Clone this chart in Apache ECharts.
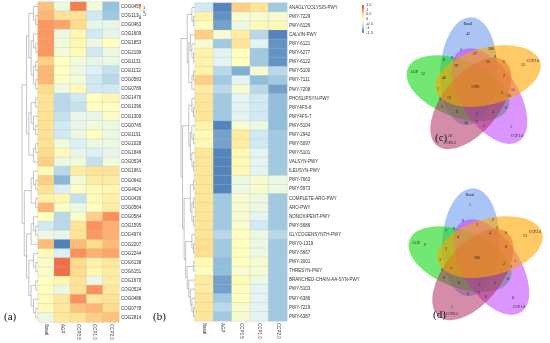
<!DOCTYPE html>
<html><head><meta charset="utf-8">
<script src="https://cdn.jsdelivr.net/npm/echarts@6/dist/echarts.min.js"></script>
<style>html,body{margin:0;padding:0;background:#fff}#c{width:550px;height:343px}</style>
</head><body><div id="c"></div>
<script>
// ---------------- data ----------------
const groups = ['Basal', 'AGP', 'CCP0.5', 'CCP1.0', 'CCP2.0'];

const cogLabels = ['COG0456','COG1136','COG0463','COG1609','COG1853','COG2199','COG1131','COG1132','COG0583','COG0789',
  'COG1476','COG1396','COG1309','COG0745','COG1191','COG1028','COG1846','COG0534','COG1961','COG0642',
  'COG4624','COG0436','COG0564','COG0584','COG1595','COG4974','COG2207','COG2244','COG6138','COG6151',
  'COG1670','COG0524','COG0488','COG0778','COG2814'];
const cogValues = [
  [0.9,-0.4,1.45,-0.3,-1.3],[1.0,0.6,0.6,-0.8,-1.2],[1.25,1.15,0.7,-0.5,-0.5],[1.25,-0.4,0.2,-0.8,-0.5],[1.25,-0.3,0.2,-0.4,0.0],
  [1.25,-0.3,0.1,-0.8,-0.4],[0.8,0.0,-0.3,-0.5,-0.4],[1.0,0.0,-0.4,-0.7,-0.9],[1.0,-0.1,-0.3,-0.8,-1.0],[0.7,-0.4,0.1,-0.8,-0.8],
  [0.6,-1.0,-0.8,0.0,0.2],[0.6,-1.0,-0.9,0.0,0.0],[0.6,-0.9,-0.5,-0.5,-0.1],[0.6,-0.8,-0.5,-0.3,-0.4],[0.6,-0.8,-0.4,0.0,-0.4],
  [0.6,-0.3,-0.7,-0.4,-0.4],[0.7,0.1,-0.5,-0.7,-0.5],[0.8,-0.4,-0.3,-0.9,-0.3],[0.1,-1.0,0.4,0.6,0.6],[0.8,-1.4,-0.3,0.4,0.4],
  [0.6,-0.7,-0.1,0.1,0.2],[0.3,0.2,-0.9,0.1,0.3],[1.0,-0.1,-0.4,0.0,0.4],[0.0,-1.0,-0.1,0.8,1.3],[-0.8,-1.0,0.6,1.3,1.05],
  [-0.4,-0.5,0.6,1.25,1.05],[0.95,-1.9,0.95,0.7,0.95],[0.1,-0.7,1.3,1.05,1.15],[-0.1,1.55,0.7,0.3,0.5],[-0.1,1.55,0.7,0.2,0.4],
  [0.0,0.2,0.6,-0.4,0.4],[0.0,-0.4,0.6,1.3,0.5],[0.1,0.5,1.3,0.5,0.6],[0.1,0.5,0.9,1.0,0.7],[-0.4,0.5,0.6,0.8,0.9]
];

const pwyLabels = ['ANAGLYCOLYSIS-PWY','PWY-7229','PWY-6126','CALVIN-PWY','PWY-6121','PWY-6277','PWY-6122','PWY-5100','PWY-7111','PWY-7208',
  'PHOSLIPSYN-PWY','PWY4FS-8','PWY4FS-7','PWY-5104','PWY-2942','PWY-5097','PWY-5101','VALSYN-PWY','ILEUSYN-PWY','PWY-7663',
  'PWY-5973','COMPLETE-ARO-PWY','ARO-PWY','NONOXIPENT-PWY','PWY-5686','GLYCOGENSYNTH-PWY','PWY0-1319','PWY-5667','PWY-3001','THRESYN-PWY',
  'BRANCHED-CHAIN-AA-SYN-PWY','PWY-5103','PWY-6386','PWY-7219','PWY-6387'];
const pwyValues = [
  [-0.6,-1.4,0.6,0.4,-0.9],[0.2,-1.3,-0.15,-0.15,-0.15],[0.0,-1.2,-0.3,0.1,0.1],[0.6,-0.15,0.3,-0.75,-1.4],[-0.15,-0.9,0.4,-0.45,-1.3],
  [0.2,-0.45,0.0,-0.9,-1.3],[0.2,-0.45,0.0,-0.9,-1.3],[0.2,-0.75,-1.1,-0.15,-0.75],[0.6,-0.9,-0.45,-1.0,-0.9],[0.3,-0.75,-0.15,-0.75,-1.2],
  [0.4,-0.9,-0.45,-0.6,-1.0],[0.4,-0.9,-0.45,-0.6,-1.0],[0.4,-0.9,-0.45,-0.6,-1.0],[0.2,-1.4,-0.15,-0.3,-1.0],[0.1,-1.2,0.3,-0.6,-0.9],
  [0.1,-1.2,0.3,-0.6,-0.9],[0.4,-1.4,0.1,-0.45,-0.9],[0.4,-1.4,0.1,-0.45,-0.9],[0.4,-1.4,0.1,-0.45,-0.9],[0.4,-1.4,-0.3,-0.15,-0.3],
  [0.4,-1.4,-0.3,-0.15,-0.3],[0.4,-0.9,-0.15,-0.3,-0.9],[0.4,-0.9,-0.15,-0.3,-0.9],[0.4,-0.9,-0.15,-0.45,-0.9],[0.4,-0.9,-0.15,-0.6,-0.9],
  [0.4,-0.75,0.0,-0.3,-0.75],[0.5,-0.9,0.0,-0.3,-0.9],[0.5,-0.9,0.0,-0.3,-0.9],[0.1,-1.0,0.0,-0.15,-0.9],[0.0,-1.0,-0.15,-0.15,-0.9],
  [0.3,-1.2,0.1,-0.3,-0.9],[0.3,-1.2,0.0,-0.45,-0.9],[0.4,-0.9,0.0,-0.45,-0.9],[0.4,-0.75,-0.15,-0.45,-0.9],[0.4,-0.9,-0.15,-0.45,-0.9]
];

const cogScale = [-2, 2, 1];      // min, max, tick interval of legend (a)
const pwyScale = [-1.5, 1.5, 0.5]; // legend (b)

// row clustering (leaf = row index)
const cogTree = [
  [[[0,[1,2]],[[3,[4,5]],[[6,7],[8,9]]]], [[[10,11],[12,[13,14]]],[[15,16],17]]],
  [[[18,[19,20]],[21,22]], [[[23,[24,25]],26],[[27,[28,29]],[[30,31],[32,[33,34]]]]]]
];
const pwyTree = [
  [[0,[1,2]],[[3,[4,[5,6]]],[[7,8],9]]],
  [[[10,[11,12]],[[13,[14,15]],[16,[17,18]]]],
   [[[19,20],[[21,22],[23,24]]],[[25,[26,27]],[[28,29],[30,[31,[32,[33,34]]]]]]]]
];

// Venn diagrams
const vennSets = ['Basal', 'AGP', 'CCP2.0', 'CCP1.0', 'CCP0.5'];
const vennCCounts = [42,12,15,1,20,1199,2,380,8,9,27,8,29,55,6,40,2,1,6,13,2,11,16,3,8,2,4,6,10,2,1];
const vennDCounts = [1,6,13,0,1,386,6,2,7,8,3,5,4,4,0,3,0,3,6,7,2,1,2,8,8,1,6,0,0,1,8];

// ---------------- layout / style ----------------
const palette = ['#4575B4','#91BFDB','#E0F3F8','#FFFFBF','#FEE090','#FC8D59','#D73027'];
const vennFill = {Basal:'rgba(100,149,237,0.55)', AGP:'rgba(20,215,20,0.6)', 'CCP2.0':'rgba(255,165,0,0.6)',
                  'CCP1.0':'rgba(191,62,255,0.55)', 'CCP0.5':'rgba(176,48,96,0.55)'};
const vennAngle = {Basal:-90, 'CCP2.0':-18, 'CCP1.0':54, 'CCP0.5':126, AGP:198};
const vennDrawOrder = ['Basal','AGP','CCP1.0','CCP0.5','CCP2.0'];
// offsets of region counts from venn center (same order as counts)
const vennPos = [[-7,-53],[-52,-13],[48,-22],[36,40],[-25,49],[0,0],
  [-14,-37],[16,-38],[-31,-27],[-23,-29],[0,-33],[20,-30],[-19,-21],[13,-25],[29,-25],[-31,-9],[29,-11],
  [-37,2],[-35,12],[-26,11],[27,6],[38,3],[34,9],[-33,20],[-18,25],[2,27],[18,25],[31,21],[-9,36],[2,35],[9,39]];
const vennLabelPos = [[-7,-63],[-61,-15],[58,-26],[42,49],[-25,56]];

const chart = echarts.init(document.getElementById('c'), null, {renderer:'canvas'});

function heatData(vals){
  const d = [];
  vals.forEach((row, r) => row.forEach((v, c) => d.push([c, r, v])));
  return d;
}
function dendro(node, out){
  if (typeof node === 'number') return {y: node, h: 0};
  const a = dendro(node[0], out), b = dendro(node[1], out);
  const h = Math.max(a.h, b.h) + 1;
  out.push({coords: [[a.h, a.y], [h, a.y], [h, b.y], [b.h, b.y]]});
  return {y: (a.y + b.y) / 2, h: h};
}
const cogLines = []; const cogRoot = dendro(cogTree, cogLines);
const pwyLines = []; const pwyRoot = dendro(pwyTree, pwyLines);

const lblFont = {fontSize: 4.5, color: '#333', fontFamily: 'Liberation Sans'};

function heatX(gi){
  return {type:'category', gridIndex:gi, data:groups, position:'bottom',
    axisLine:{show:false}, axisTick:{show:false}, splitLine:{show:false},
    axisLabel:Object.assign({rotate:-90, interval:0, margin:2}, lblFont)};
}
function heatY(gi, labels){
  return {type:'category', gridIndex:gi, data:labels, inverse:true, position:'right',
    axisLine:{show:false}, axisTick:{show:false}, splitLine:{show:false},
    axisLabel:Object.assign({interval:0, margin:2}, lblFont)};
}

const graphics = [];
function venn(cx, cy, counts){
  const A = 54, B = 28.5, D = 17, AL = -22, BE = 3;
  vennDrawOrder.forEach(name => {
    const phi = vennAngle[name];
    const pr = (phi + AL) * Math.PI / 180;
    graphics.push({type:'circle', silent:true, shape:{cx:0, cy:0, r:10},
      x: cx + D*Math.cos(pr), y: cy + D*Math.sin(pr), scaleX: A/10, scaleY: B/10,
      rotation: -(phi + BE) * Math.PI / 180, style:{fill: vennFill[name]}});
  });
  counts.forEach((v, i) => {
    graphics.push({type:'text', silent:true, x: cx + vennPos[i][0], y: cy + vennPos[i][1],
      style:{text:String(v), fontSize: 4, fontFamily:'Liberation Serif', fill:'#222', align:'center', verticalAlign:'middle'}});
  });
  vennSets.forEach((s, i) => {
    graphics.push({type:'text', silent:true, x: cx + vennLabelPos[i][0], y: cy + vennLabelPos[i][1],
      style:{text:s, fontSize: 4, fontFamily:'Liberation Serif', fill:'#222', align:'center', verticalAlign:'middle'}});
  });
}
venn(475, 87, vennCCounts);
venn(477, 258, vennDCounts);
[['(a)',4,317],['(b)',153,317],['(c)',435,138],['(d)',433,315]].forEach(t => {
  graphics.push({type:'text', silent:true, x:t[1], y:t[2],
    style:{text:t[0], fontSize:11, fontFamily:'Liberation Serif', fill:'#111', verticalAlign:'middle'}});
});

const option = {
  backgroundColor: '#fff',
  animation: false,
  grid: [
    {left:38, top:2, width:81, height:320},   // heatmap a
    {left:195, top:3, width:92, height:318},  // heatmap b
    {left:22, top:2, width:16, height:320},   // dendro a
    {left:181, top:3, width:14, height:318},  // dendro b
    {left:139, top:4, width:2, height:15},    // legend a ticks
    {left:362, top:5, width:2, height:28}     // legend b ticks
  ],
  xAxis: [
    heatX(0), heatX(1),
    {type:'value', gridIndex:2, min:0, max:cogRoot.h, inverse:true, show:false},
    {type:'value', gridIndex:3, min:0, max:pwyRoot.h, inverse:true, show:false},
    {type:'value', gridIndex:4, show:false},
    {type:'value', gridIndex:5, show:false}
  ],
  yAxis: [
    heatY(0, cogLabels), heatY(1, pwyLabels),
    {type:'value', gridIndex:2, min:-0.5, max:cogLabels.length-0.5, inverse:true, show:false},
    {type:'value', gridIndex:3, min:-0.5, max:pwyLabels.length-0.5, inverse:true, show:false},
    {type:'value', gridIndex:4, min:cogScale[0], max:cogScale[1], interval:cogScale[2], position:'right',
      axisLine:{show:false}, axisTick:{show:false}, splitLine:{show:false},
      axisLabel:{fontSize:4, color:'#333', margin:2, fontFamily:'Liberation Sans'}},
    {type:'value', gridIndex:5, min:pwyScale[0], max:pwyScale[1], interval:pwyScale[2], position:'right',
      axisLine:{show:false}, axisTick:{show:false}, splitLine:{show:false},
      axisLabel:{fontSize:4, color:'#333', margin:2, fontFamily:'Liberation Sans'}}
  ],
  visualMap: [
    {type:'continuous', seriesIndex:0, min:cogScale[0], max:cogScale[1], calculable:false,
      left:139, top:4, itemWidth:2, itemHeight:15, padding:0, inRange:{color:palette}, text:null},
    {type:'continuous', seriesIndex:1, min:pwyScale[0], max:pwyScale[1], calculable:false,
      left:362, top:5, itemWidth:2, itemHeight:28, padding:0, inRange:{color:palette}, text:null}
  ],
  series: [
    {type:'heatmap', xAxisIndex:0, yAxisIndex:0, data:heatData(cogValues), silent:true,
      itemStyle:{borderColor:'rgba(190,190,190,0.7)', borderWidth:0.4}},
    {type:'heatmap', xAxisIndex:1, yAxisIndex:1, data:heatData(pwyValues), silent:true,
      itemStyle:{borderColor:'rgba(190,190,190,0.7)', borderWidth:0.4}},
    {type:'lines', coordinateSystem:'cartesian2d', xAxisIndex:2, yAxisIndex:2, polyline:true, silent:true,
      lineStyle:{color:'#8a8a8a', width:0.5, opacity:1}, data:cogLines},
    {type:'lines', coordinateSystem:'cartesian2d', xAxisIndex:3, yAxisIndex:3, polyline:true, silent:true,
      lineStyle:{color:'#8a8a8a', width:0.5, opacity:1}, data:pwyLines}
  ],
  graphic: graphics
};
chart.setOption(option);
</script></body></html>
